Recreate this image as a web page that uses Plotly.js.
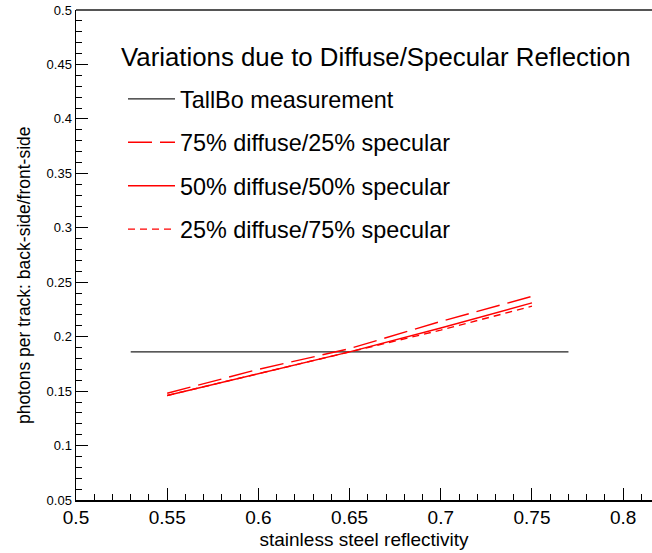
<!DOCTYPE html>
<html>
<head>
<meta charset="utf-8">
<script src="https://cdn.plot.ly/plotly-3.0.1.min.js"></script>
<style>html,body{margin:0;padding:0;background:#fff;}#chart{width:652px;height:553px;}</style>
</head>
<body>
<div id="chart"></div>
<script>
var measX = [0.53, 0.77];
var measY = [0.186, 0.186];
var reflX = [0.55, 0.60, 0.65, 0.70, 0.75];
var diff75 = [0.148, 0.170, 0.189, 0.214, 0.237];
var diff50 = [0.146, 0.166, 0.186, 0.208, 0.231];
var diff25 = [0.146, 0.166, 0.186, 0.206, 0.228];
var names = ["TallBo measurement", "75% diffuse/25% specular", "50% diffuse/50% specular", "25% diffuse/75% specular"];
var legendTitle = "Variations due to Diffuse/Specular Reflection";
var xTitle = "stainless steel reflectivity";
var yTitle = "photons per track: back-side/front-side";

var traces = [
  {x: measX, y: measY, name: names[0], legendgroup: "a", mode: "lines", line: {color: "#222", width: 1.3}},
  {x: reflX, y: diff75, name: names[1], legendgroup: "b", mode: "lines", line: {color: "#ff0000", width: 1.4, dash: "24px,8px"}},
  {x: reflX, y: diff50, name: names[2], legendgroup: "c", mode: "lines", line: {color: "#ff0000", width: 1.4}},
  {x: reflX, y: diff25, name: names[3], legendgroup: "d", mode: "lines", line: {color: "#ff0000", width: 1.4, dash: "7px,5px"}}
];

var font = "Liberation Sans, Arial, sans-serif";
var layout = {
  width: 652, height: 553,
  margin: {l: 76, r: 0, t: 10, b: 53},
  paper_bgcolor: "#fff", plot_bgcolor: "#fff",
  font: {family: font, color: "#000"},
  showlegend: true,
  legend: {
    x: 0.0816, y: 0.863, xanchor: "left", yanchor: "top",
    bgcolor: "rgba(0,0,0,0)", borderwidth: 0,
    font: {family: font, size: 23.4, color: "#000"},
    traceorder: "grouped", tracegroupgap: 10, itemwidth: 47
  },
  annotations: [
    {text: legendTitle, xref: "paper", yref: "paper", x: 0.0747, y: 0.904, xanchor: "left", yanchor: "middle",
     showarrow: false, font: {family: font, size: 25.8, color: "#000"}},
    {text: yTitle, xref: "paper", yref: "paper", x: 0, y: 0.459, xshift: -52, xanchor: "center", yanchor: "middle",
     textangle: -90, showarrow: false, font: {family: font, size: 17.5, color: "#000"}}
  ],
  xaxis: {
    range: [0.5, 0.8158], showgrid: false, zeroline: false,
    showline: true, linecolor: "#000", linewidth: 1.5,
    ticks: "inside", ticklen: 12, tickwidth: 1, tickcolor: "#000",
    tick0: 0.5, dtick: 0.05,
    minor: {dtick: 0.01, ticks: "inside", ticklen: 6, tickcolor: "#000", tickwidth: 1},
    tickfont: {family: font, size: 19},
    title: {text: xTitle, font: {family: font, size: 19}, standoff: 5}
  },
  yaxis: {
    range: [0.05, 0.5], showgrid: false, zeroline: false,
    showline: true, linecolor: "#000", linewidth: 1.5,
    ticks: "inside", ticklen: 12, tickwidth: 1, tickcolor: "#000",
    tick0: 0.05, dtick: 0.05,
    minor: {dtick: 0.01, ticks: "inside", ticklen: 6, tickcolor: "#000", tickwidth: 1},
    tickfont: {family: font, size: 13}
  },
  shapes: [
    {type: "line", xref: "paper", yref: "paper", x0: 0, x1: 1, y0: 1, y1: 1, line: {color: "#555", width: 2}}
  ]
};
Plotly.newPlot("chart", traces, layout, {displayModeBar: false, staticPlot: true});
</script>
</body>
</html>
